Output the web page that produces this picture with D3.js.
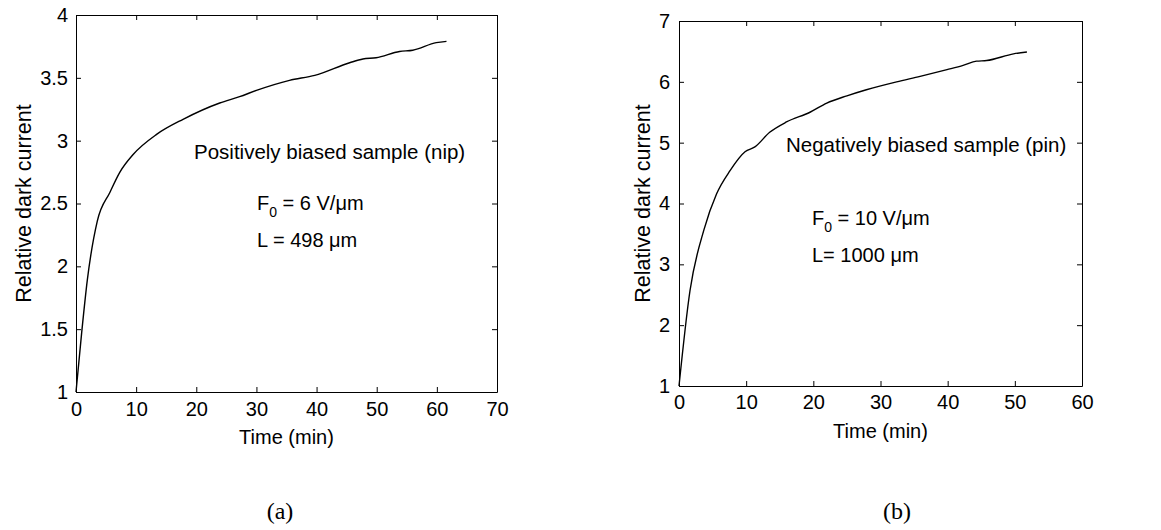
<!DOCTYPE html>
<html>
<head>
<meta charset="utf-8">
<script src="https://cdn.jsdelivr.net/npm/d3@7"></script>
<style>
  body { margin: 0; background: #fff; }
  svg text { font-family: "Liberation Sans", Arial, sans-serif; fill: #000; }
  .axis path, .axis line { stroke: #000; stroke-width: 1; }
</style>
</head>
<body>
<svg id="chart" width="1161" height="530"></svg>
<script>
// panel (a): positively biased sample
var time_a = [0, 0.94, 1.88, 3.54, 5.65, 7.3, 9.5, 13.4, 17.8, 23.9, 27.2, 30.0, 35.5, 39.7, 45.5, 47.7, 49.9, 53.8, 56.0, 59.9, 61.6];
var current_a = [1.0, 1.47, 1.89, 2.36, 2.59, 2.75, 2.89, 3.05, 3.17, 3.30, 3.35, 3.40, 3.48, 3.52, 3.62, 3.65, 3.66, 3.71, 3.72, 3.78, 3.79];
var xticks_a = [0, 10, 20, 30, 40, 50, 60, 70];
var yticks_a = [1, 1.5, 2, 2.5, 3, 3.5, 4];

// panel (b): negatively biased sample
var time_b = [0, 1.64, 3.72, 5.6, 7.6, 9.83, 11.3, 13.5, 16.0, 19.5, 22.0, 25.0, 27.9, 32.4, 35.9, 39.9, 42.3, 44.3, 45.8, 49.8, 51.8];
var current_b = [1.0, 2.57, 3.57, 4.16, 4.54, 4.85, 4.93, 5.17, 5.34, 5.50, 5.65, 5.77, 5.87, 6.0, 6.09, 6.20, 6.27, 6.34, 6.35, 6.46, 6.49];
var xticks_b = [0, 10, 20, 30, 40, 50, 60];
var yticks_b = [1, 2, 3, 4, 5, 6, 7];

var svg = d3.select('#chart');
var fmt = d3.format('~g');

function draw_panel(opts) {
    var g = svg.append('g');
    var x = d3.scaleLinear().domain(opts.xdom).range([opts.left, opts.right]);
    var y = d3.scaleLinear().domain(opts.ydom).range([opts.bottom, opts.top]);

    // bottom axis with labels, ticks pointing inward
    g.append('g').attr('class', 'axis')
        .attr('transform', 'translate(0,' + opts.bottom + ')')
        .call(d3.axisBottom(x).tickValues(opts.xticks).tickFormat(fmt).tickSizeInner(-5).tickSizeOuter(0).tickPadding(opts.xpad))
        .selectAll('text').attr('font-size', 20).attr('font-family', null);
    g.append('g').attr('class', 'axis')
        .attr('transform', 'translate(' + opts.left + ',0)')
        .call(d3.axisLeft(y).tickValues(opts.yticks).tickFormat(fmt).tickSizeInner(-5).tickSizeOuter(0).tickPadding(opts.ypad))
        .selectAll('text').attr('font-size', 20).attr('font-family', null);
    // top and right, ticks only
    g.append('g').attr('class', 'axis')
        .attr('transform', 'translate(0,' + opts.top + ')')
        .call(d3.axisTop(x).tickValues(opts.xticks).tickSizeInner(-5).tickSizeOuter(0).tickFormat(''));
    g.append('g').attr('class', 'axis')
        .attr('transform', 'translate(' + opts.right + ',0)')
        .call(d3.axisRight(y).tickValues(opts.yticks).tickSizeInner(-5).tickSizeOuter(0).tickFormat(''));

    var pts = opts.xs.map(function(v, i) { return [v, opts.ys[i]]; });
    var line = d3.line()
        .x(function(d) { return x(d[0]); })
        .y(function(d) { return y(d[1]); })
        .curve(d3.curveMonotoneX);
    g.append('path')
        .datum(pts)
        .attr('fill', 'none')
        .attr('stroke', '#000')
        .attr('stroke-width', 1.4)
        .attr('d', line);

    g.append('text')
        .attr('x', (opts.left + opts.right) / 2)
        .attr('y', opts.xlabel_y)
        .attr('text-anchor', 'middle')
        .attr('font-size', 20)
        .text('Time (min)');

    g.append('text')
        .attr('transform', 'translate(' + opts.ylabel_x + ',' + (opts.top + opts.bottom) / 2 + ') rotate(-90)')
        .attr('text-anchor', 'middle')
        .attr('font-size', 21.5)
        .text('Relative dark current');

    g.append('text')
        .attr('x', opts.note[0])
        .attr('y', opts.note[1])
        .attr('font-size', 20.5)
        .text(opts.note_text);

    var f = g.append('text')
        .attr('x', opts.field[0])
        .attr('y', opts.field[1])
        .attr('font-size', 20);
    f.append('tspan').text('F');
    f.append('tspan').attr('font-size', 14).attr('dy', 7).text('0');
    f.append('tspan').attr('dy', -7).text(opts.field_text);

    g.append('text')
        .attr('x', opts.len[0])
        .attr('y', opts.len[1])
        .attr('font-size', 20)
        .text(opts.len_text);

    svg.append('text')
        .attr('x', opts.tag_x)
        .attr('y', 519)
        .attr('text-anchor', 'middle')
        .attr('font-size', 24)
        .style('font-family', '"Liberation Serif", "Times New Roman", serif')
        .text(opts.tag);
}

draw_panel({
    left: 76, right: 497, top: 15, bottom: 392,
    xdom: [0, 70], ydom: [1, 4],
    xticks: xticks_a, yticks: yticks_a,
    xs: time_a, ys: current_a,
    xpad: 10, ypad: 8,
    xlabel_y: 444, ylabel_x: 31,
    note: [194, 159], note_text: 'Positively biased sample (nip)',
    field: [257, 210], field_text: ' = 6 V/\u03bcm',
    len: [257, 247], len_text: 'L = 498 \u03bcm',
    tag: '(a)', tag_x: 280
});

draw_panel({
    left: 679, right: 1082, top: 21, bottom: 386,
    xdom: [0, 60], ydom: [1, 7],
    xticks: xticks_b, yticks: yticks_b,
    xs: time_b, ys: current_b,
    xpad: 9, ypad: 9,
    xlabel_y: 438, ylabel_x: 650,
    note: [786, 152], note_text: 'Negatively biased sample (pin)',
    field: [812, 225], field_text: ' = 10 V/\u03bcm',
    len: [812, 262], len_text: 'L= 1000 \u03bcm',
    tag: '(b)', tag_x: 897
});
</script>
</body>
</html>
